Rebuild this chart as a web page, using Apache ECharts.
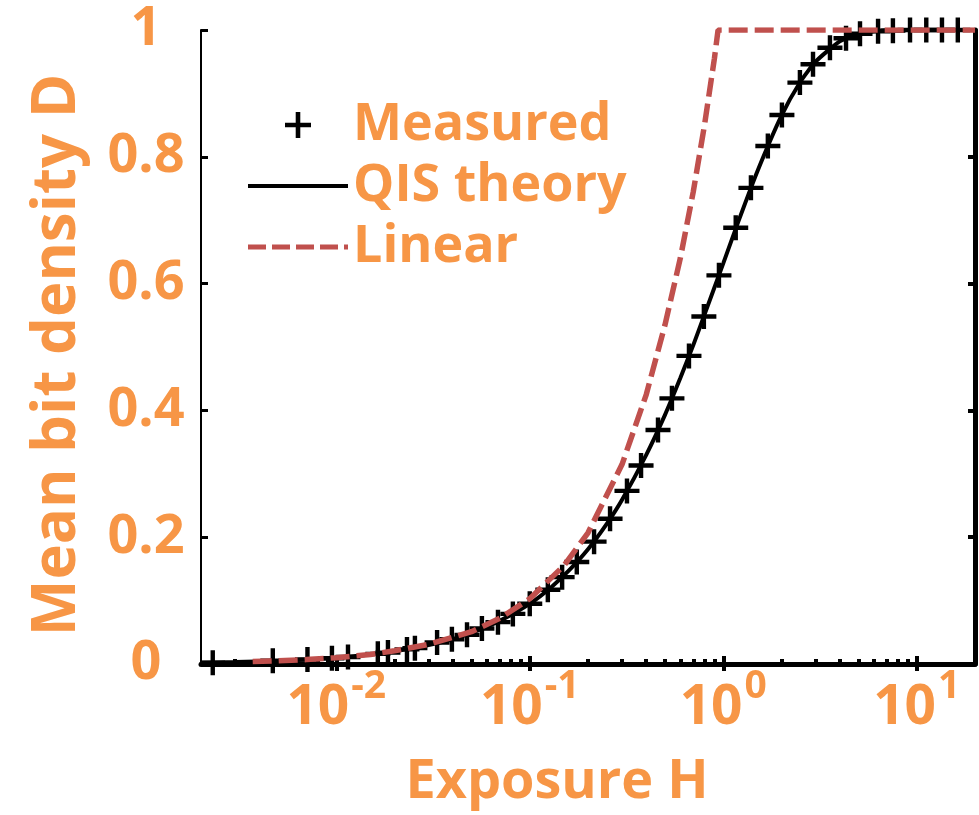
<!DOCTYPE html>
<html>
<head>
<meta charset="utf-8">
<script src="https://cdn.jsdelivr.net/npm/echarts@6/dist/echarts.min.js"></script>
<style>
html, body { margin: 0; padding: 0; background: #fff; }
#chart { width: 979px; height: 815px; }
</style>
</head>
<body>
<div id="chart"></div>
<script>
// measured points (exposure H, mean bit density D)
var measuredH = [0.0023, 0.0047, 0.0071, 0.0095, 0.0115, 0.0164, 0.0185, 0.0232, 0.0255, 0.0332,
    0.0396, 0.0474, 0.0566, 0.0685, 0.0818, 0.100, 0.124, 0.147, 0.175, 0.215,
    0.260, 0.318, 0.376, 0.460, 0.543, 0.665, 0.794, 0.950, 1.16, 1.39,
    1.70, 2.01, 2.49, 2.91, 3.56, 4.31, 5.09, 6.31, 7.53, 9.23,
    11.2, 13.5, 16.3];
var measuredD = [0.002, 0.005, 0.007, 0.009, 0.011, 0.016, 0.018, 0.023, 0.025, 0.034,
    0.039, 0.046, 0.056, 0.066, 0.079, 0.095, 0.117, 0.137, 0.161, 0.193,
    0.229, 0.273, 0.313, 0.369, 0.419, 0.486, 0.548, 0.613, 0.688, 0.751,
    0.817, 0.866, 0.917, 0.946, 0.972, 0.987, 0.994, 0.998, 0.999, 1.0,
    1.0, 1.0, 1.0];

// QIS theory curve
var qisH = [0.002, 0.003, 0.005, 0.007, 0.01, 0.015, 0.02, 0.03, 0.04, 0.05,
    0.07, 0.1, 0.13, 0.16, 0.2, 0.25, 0.3, 0.4, 0.5, 0.6,
    0.7, 0.8, 1, 1.2, 1.5, 2, 2.5, 3, 4, 5,
    6, 8, 10, 20];
var qisD = [0.002, 0.003, 0.005, 0.007, 0.010, 0.015, 0.020, 0.030, 0.039, 0.049,
    0.068, 0.095, 0.122, 0.148, 0.181, 0.221, 0.259, 0.330, 0.393, 0.451,
    0.503, 0.551, 0.632, 0.699, 0.777, 0.865, 0.918, 0.950, 0.982, 0.993,
    0.998, 1.0, 1.0, 1.0];

// linear response
var linearH = [0.0037, 0.005, 0.007, 0.01, 0.015, 0.02, 0.03, 0.05, 0.07, 0.1,
    0.15, 0.2, 0.3, 0.4, 0.5, 0.6, 0.7, 0.8, 0.9, 0.94,
    1, 2, 5, 10, 20];
var linearD = [0.004, 0.005, 0.007, 0.010, 0.015, 0.021, 0.031, 0.051, 0.072, 0.103,
    0.155, 0.207, 0.315, 0.425, 0.535, 0.640, 0.745, 0.850, 0.955, 1.0,
    1.0, 1.0, 1.0, 1.0, 1.0];

var seriesNames = ['Measured', 'QIS theory', 'Linear'];
var xMajorTicks = [0.01, 0.1, 1, 10];
var xMinorTicks = [0.003, 0.004, 0.005, 0.006, 0.007, 0.008, 0.009,
    0.02, 0.03, 0.04, 0.05, 0.06, 0.07, 0.08, 0.09,
    0.2, 0.3, 0.4, 0.5, 0.6, 0.7, 0.8, 0.9,
    2, 3, 4, 5, 6, 7, 8, 9];

var ORANGE = '#F79646';
var RED = '#C0504D';
var FONT = 'Open Sans';
var PLUS = 'path://M10.5,0h4.5v10.5h10.5v4.5h-10.5v10.5h-4.5v-10.5h-10.5v-4.5h10.5z';
var SOLID_ICON = 'path://M0,0h100v4h-100z';
var DASH_ICON = 'path://M0,0h18v5h-18zM24,0h18v5h-18zM48,0h18v5h-18zM72,0h18v5h-18zM96,0h4v5h-4z';

function zip(xs, ys) {
    var out = [];
    for (var i = 0; i < xs.length; i++) {
        out.push([xs[i], ys[i]]);
    }
    return out;
}

var chart = echarts.init(document.getElementById('chart'));

var option = {
    backgroundColor: '#fff',
    animation: false,
    grid: {
        left: 201, right: 4, top: 30, bottom: 151,
        containLabel: false,
        outerBoundsMode: 'none'
    },
    legend: {
        orient: 'vertical',
        left: 243,
        top: 94,
        itemWidth: 100,
        itemHeight: 26,
        itemGap: 9,
        textStyle: {
            color: ORANGE, fontFamily: FONT, fontWeight: 'bold',
            fontSize: 52, lineHeight: 50
        },
        data: [
            { name: seriesNames[0], icon: PLUS },
            { name: seriesNames[1], icon: SOLID_ICON },
            { name: seriesNames[2], icon: DASH_ICON }
        ]
    },
    xAxis: [{
        type: 'log',
        position: 'bottom',
        min: 0.002,
        max: 20,
        name: 'Exposure H',
        nameLocation: 'middle',
        nameGap: 92,
        nameTextStyle: {
            color: ORANGE, fontFamily: FONT, fontWeight: 'bold', fontSize: 54,
            padding: [0, 62, 0, 0]
        },
        axisLine: { lineStyle: { color: '#000', width: 5 } },
        axisTick: { inside: true, length: 8, customValues: xMajorTicks, lineStyle: { color: '#000', width: 4 } },
        axisLabel: {
            customValues: xMajorTicks,
            margin: 12,
            formatter: function (v) {
                return '{b|10}{s|' + Math.round(Math.log10(v)) + '}';
            },
            rich: {
                b: { color: ORANGE, fontFamily: FONT, fontWeight: 'bold', fontSize: 55, lineHeight: 60, verticalAlign: 'bottom' },
                s: { color: ORANGE, fontFamily: FONT, fontWeight: 'bold', fontSize: 39, lineHeight: 38, padding: [0, 0, 30, 2], verticalAlign: 'bottom' }
            }
        },
        splitLine: { show: false }
    }, {
        type: 'log',
        position: 'top',
        offset: 1.5,
        min: 0.002,
        max: 20,
        axisLine: { lineStyle: { color: '#000', width: 4 } },
        axisTick: { inside: true, length: 7, customValues: xMajorTicks, lineStyle: { color: '#000', width: 4 } },
        axisLabel: { show: false },
        splitLine: { show: false }
    }, {
        // minor ticks on the bottom edge
        type: 'log',
        position: 'bottom',
        min: 0.002,
        max: 20,
        axisLine: { show: false },
        axisTick: { inside: true, length: 5, customValues: xMinorTicks, lineStyle: { color: '#000', width: 4 } },
        axisLabel: { show: false },
        splitLine: { show: false }
    }],
    yAxis: [{
        type: 'value',
        position: 'left',
        min: 0,
        max: 1,
        interval: 0.2,
        name: 'Mean bit density D',
        nameLocation: 'middle',
        nameRotate: 90,
        nameGap: 113,
        nameTextStyle: {
            color: ORANGE, fontFamily: FONT, fontWeight: 'bold', fontSize: 60,
            padding: [0, 16, 0, 0]
        },
        axisLine: { lineStyle: { color: '#000', width: 2 } },
        axisTick: { inside: true, length: 7, lineStyle: { color: '#000', width: 3 } },
        axisLabel: {
            margin: 55,
            align: 'center',
            color: ORANGE, fontFamily: FONT, fontWeight: 'bold', fontSize: 54
        },
        splitLine: { show: false }
    }, {
        type: 'value',
        position: 'right',
        min: 0,
        max: 1,
        interval: 0.2,
        axisLine: { show: true, lineStyle: { color: '#000', width: 5 } },
        axisTick: { show: true, inside: true, length: 7, lineStyle: { color: '#000', width: 4 } },
        axisLabel: { show: false },
        splitLine: { show: false }
    }],
    series: [{
        name: seriesNames[0],
        type: 'scatter',
        symbol: PLUS,
        symbolSize: 25,
        itemStyle: { color: '#000', opacity: 1 },
        data: zip(measuredH, measuredD),
        z: 3
    }, {
        name: seriesNames[1],
        type: 'line',
        symbol: 'none',
        smooth: 0.2,
        color: '#000',
        lineStyle: { color: '#000', width: 4 },
        data: zip(qisH, qisD),
        z: 4
    }, {
        name: seriesNames[2],
        type: 'line',
        symbol: 'none',
        color: RED,
        lineStyle: { color: RED, width: 5.5, type: [19, 7] },
        data: zip(linearH, linearD),
        z: 5
    }]
};

chart.setOption(option);
</script>
</body>
</html>
